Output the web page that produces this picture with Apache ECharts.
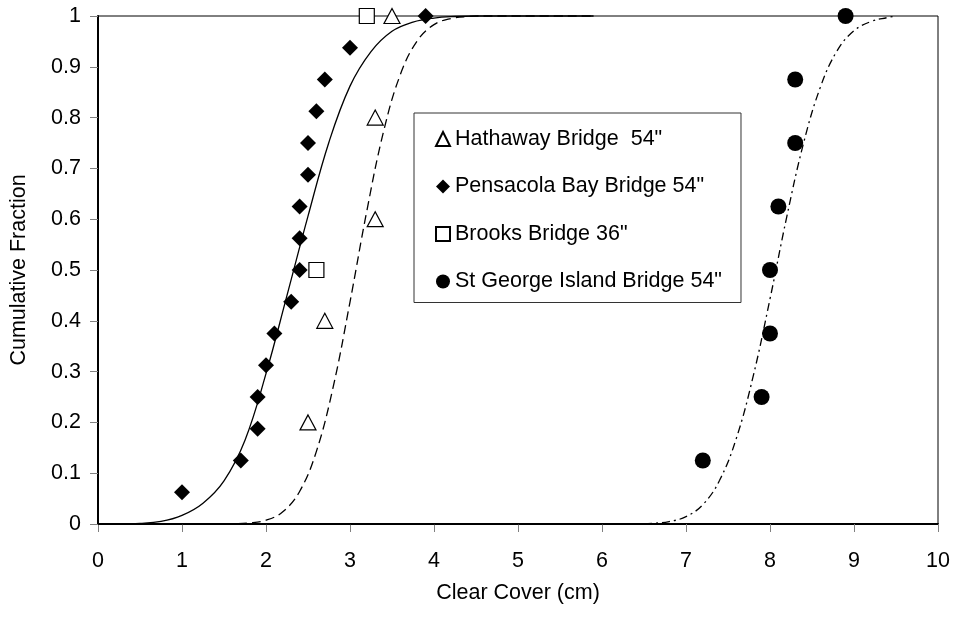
<!DOCTYPE html>
<html>
<head>
<meta charset="utf-8">
<script src="https://cdn.jsdelivr.net/npm/echarts@6/dist/echarts.min.js"></script>
<style>
  html, body { margin: 0; padding: 0; background: #fff; }
  #chart { width: 957px; height: 620px; }
</style>
</head>
<body>
<div id="chart"></div>
<script>
// Measured clear cover (cm) and cumulative fraction for each bridge
const hathawayX  = [2.5, 2.7, 3.3, 3.3, 3.5];
const hathawayY  = [0.2, 0.4, 0.6, 0.8, 1.0];

const pensacolaX = [1.0, 1.7, 1.9, 1.9, 2.0, 2.1, 2.3, 2.4, 2.4, 2.4, 2.5, 2.5, 2.6, 2.7, 3.0, 3.9];
const pensacolaY = [0.0625, 0.125, 0.1875, 0.25, 0.3125, 0.375, 0.4375, 0.5, 0.5625, 0.625,
                    0.6875, 0.75, 0.8125, 0.875, 0.9375, 1.0];

const brooksX    = [2.6, 3.2];
const brooksY    = [0.5, 1.0];

const stGeorgeX  = [7.2, 7.9, 8.0, 8.0, 8.1, 8.3, 8.3, 8.9];
const stGeorgeY  = [0.125, 0.25, 0.375, 0.5, 0.625, 0.75, 0.875, 1.0];

// Fitted cumulative curves (solid, dashed, dash-dot)
const fitSolidX = [0, 0.25, 0.5, 0.75, 1.0, 1.25, 1.5, 1.75, 2.0, 2.25, 2.5, 2.75, 3.0, 3.25, 3.5, 3.75, 4.0, 4.25, 4.5, 5.9];
const fitSolidY = [0, 0, 0.001, 0.005, 0.017, 0.041, 0.085, 0.165, 0.296, 0.45, 0.606, 0.752, 0.862, 0.93, 0.97, 0.988, 0.996, 0.999, 1.0, 1.0];

const fitDashedX = [0, 1.4, 1.6, 1.8, 2.0, 2.2, 2.4, 2.6, 2.8, 3.0, 3.2, 3.4, 3.6, 3.8, 4.0, 4.2, 4.4, 4.6, 5.9];
const fitDashedY = [0, 0, 0.0004, 0.002, 0.0075, 0.024, 0.064, 0.143, 0.27, 0.437, 0.616, 0.773, 0.885, 0.951, 0.983, 0.995, 0.999, 1.0, 1.0];

const fitDashDotX = [2.0, 6.2, 6.4, 6.6, 6.8, 7.0, 7.2, 7.4, 7.6, 7.8, 8.0, 8.2, 8.4, 8.6, 8.8, 9.0, 9.2, 9.4, 9.5];
const fitDashDotY = [0, 0, 0.0003, 0.0013, 0.0048, 0.0145, 0.038, 0.086, 0.169, 0.291, 0.443, 0.605, 0.75, 0.86, 0.932, 0.971, 0.989, 0.997, 1.0];

const legendNames = ['Hathaway Bridge  54"', 'Pensacola Bay Bridge 54"', 'Brooks Bridge 36"', 'St George Island Bridge 54"'];

const zip = (xs, ys) => xs.map((x, i) => [x, ys[i]]);
const FONT = "'Liberation Sans', Arial, sans-serif";
const FS = 21.5;

function curve(name, xs, ys, dash) {
  return {
    name: name,
    type: 'line',
    data: zip(xs, ys),
    symbol: 'none',
    smooth: 0.4,
    clip: false,
    silent: true,
    z: 2,
    lineStyle: { color: '#000', width: 1.3, type: dash }
  };
}

function markers(name, xs, ys, symbol, size, fill) {
  return {
    name: name,
    type: 'scatter',
    data: zip(xs, ys),
    symbol: symbol,
    symbolSize: size,
    clip: false,
    z: 5,
    itemStyle: fill
      ? { color: '#000', borderColor: '#000', borderWidth: 0, opacity: 1 }
      : { color: '#fff', borderColor: '#000', borderWidth: 1.2, opacity: 1 }
  };
}

const chart = echarts.init(document.getElementById('chart'), null, { renderer: 'canvas' });

chart.setOption({
  animation: false,
  backgroundColor: '#fff',
  textStyle: { fontFamily: FONT, color: '#000' },
  grid: {
    left: 97, right: 19, top: 16, bottom: 96,
    show: true, borderColor: '#000', borderWidth: 1, backgroundColor: 'transparent'
  },
  legend: {
    data: legendNames,
    orient: 'vertical',
    left: 414,
    top: 113,
    itemWidth: 14,
    itemHeight: 14,
    itemGap: 23.5,
    padding: [14, 19, 9, 21],
    backgroundColor: '#fff',
    borderColor: '#333',
    borderWidth: 1,
    selectedMode: false,
    textStyle: { fontFamily: FONT, fontSize: FS, color: '#000', lineHeight: 24 }
  },
  xAxis: {
    type: 'value',
    min: 0, max: 10, interval: 1,
    name: 'Clear Cover (cm)',
    nameLocation: 'middle',
    nameGap: 58,
    nameTextStyle: { fontFamily: FONT, fontSize: FS, color: '#000' },
    axisLine: { show: true, onZero: false, lineStyle: { color: '#000', width: 2 } },
    axisTick: { show: true, length: 8, lineStyle: { color: '#808080', width: 1 } },
    axisLabel: { margin: 26, fontFamily: FONT, fontSize: FS, color: '#000' },
    splitLine: { show: false }
  },
  yAxis: {
    type: 'value',
    min: 0, max: 1, interval: 0.1,
    name: 'Cumulative Fraction',
    nameLocation: 'middle',
    nameGap: 68,
    nameTextStyle: { fontFamily: FONT, fontSize: FS, color: '#000' },
    axisLine: { show: true, onZero: false, lineStyle: { color: '#000', width: 2 } },
    axisTick: { show: true, length: 8, lineStyle: { color: '#808080', width: 1 } },
    axisLabel: { margin: 17, fontFamily: FONT, fontSize: FS, color: '#000' },
    splitLine: { show: false }
  },
  series: [
    curve('fit-pensacola', fitSolidX, fitSolidY, 'solid'),
    curve('fit-hathaway', fitDashedX, fitDashedY, [9, 5]),
    curve('fit-stgeorge', fitDashDotX, fitDashDotY, [8, 4, 2, 4]),
    markers(legendNames[0], hathawayX, hathawayY, 'triangle', [16, 15], false),
    markers(legendNames[1], pensacolaX, pensacolaY, 'diamond', 16, true),
    markers(legendNames[2], brooksX, brooksY, 'rect', 15, false),
    markers(legendNames[3], stGeorgeX, stGeorgeY, 'circle', 16, true)
  ]
});
</script>
</body>
</html>
